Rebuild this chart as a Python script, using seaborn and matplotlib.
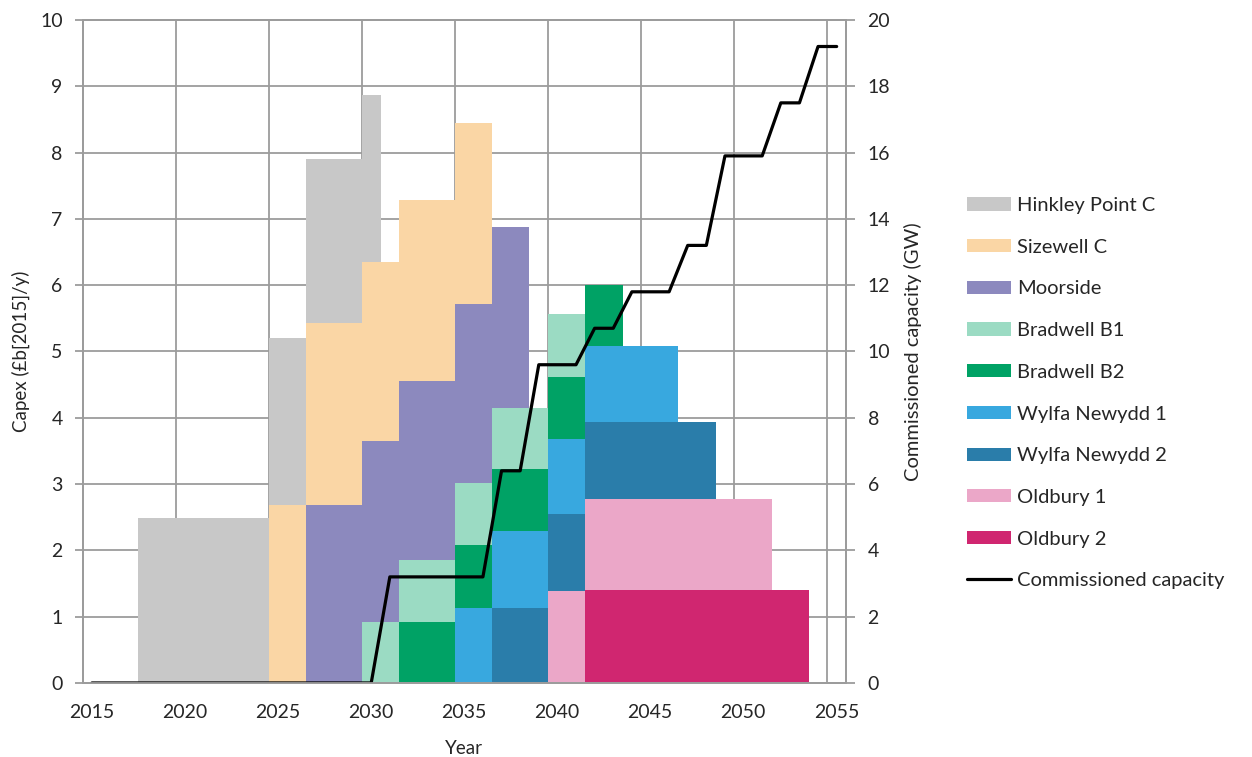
import pandas as pd
import matplotlib.pyplot as plt
import matplotlib.transforms as mtransforms
import seaborn as sns
import numpy as np
from matplotlib.patches import Patch
from matplotlib.lines import Line2D

sns.set_theme(style="whitegrid")
plt.rcParams['font.family'] = ['Lato', 'DejaVu Sans']

# projects, stacked so the first one ends up on top
projects = ["Hinkley Point C", "Sizewell C", "Moorside", "Bradwell B1", "Bradwell B2",
            "Wylfa Newydd 1", "Wylfa Newydd 2", "Oldbury 1", "Oldbury 2"]
colors = ["#c8c8c8", "#fad6a5", "#8c89be", "#9bdbc3", "#00a265",
          "#38a8df", "#2a7daa", "#eba7c8", "#d02670"]

# first construction year of each project, then yearly capex (£b[2015]/y)
start_years = [2018, 2025, 2027, 2030, 2032, 2035, 2037, 2040, 2042]
hinkley = [2.49, 2.49, 2.49, 2.49, 2.49, 2.49, 2.49, 2.52, 2.52, 2.48, 2.48, 2.48, 2.52]
sizewell = [2.69, 2.69, 2.74, 2.74, 2.74, 2.70, 2.70, 2.73, 2.73, 2.73, 2.73, 2.73]
moorside = [2.69, 2.69, 2.69, 2.73, 2.73, 2.70, 2.70, 2.70, 2.70, 2.70, 2.73, 2.73]
bradwell1 = [0.92, 0.92, 0.94, 0.94, 0.94, 0.94, 0.94, 0.92, 0.92, 0.92, 0.94, 0.94]
bradwell2 = [0.92, 0.92, 0.92, 0.95, 0.95, 0.93, 0.93, 0.93, 0.94, 0.94, 0.92, 0.92]
wylfa1 = [1.13, 1.13, 1.16, 1.16, 1.16, 1.13, 1.13, 1.15, 1.15, 1.15, 1.15, 1.15]
wylfa2 = [1.13, 1.13, 1.13, 1.16, 1.16, 1.16, 1.16, 1.16, 1.16, 1.16, 1.16, 1.16]
oldbury1 = [1.39, 1.39, 1.38, 1.38, 1.38, 1.38, 1.38, 1.38, 1.38, 1.38, 1.38, 1.38]
oldbury2 = [1.40, 1.40, 1.40, 1.40, 1.40, 1.40, 1.40, 1.40, 1.40, 1.40, 1.40, 1.40]
capex = [hinkley, sizewell, moorside, bradwell1, bradwell2, wylfa1, wylfa2, oldbury1, oldbury2]

# commissioned capacity (GW), one value per year 2015..2055
cap_years = np.arange(2015, 2056)
capacity = [0, 0, 0, 0, 0, 0, 0, 0, 0, 0, 0, 0, 0, 0, 0, 0,
            3.2, 3.2, 3.2, 3.2, 3.2, 3.2,
            6.4, 6.4,
            9.6, 9.6, 9.6,
            10.7, 10.7,
            11.8, 11.8, 11.8,
            13.2, 13.2,
            15.9, 15.9, 15.9,
            17.5, 17.5,
            19.2, 19.2]

rows = []
for name, start, vals in zip(projects, start_years, capex):
    for i, v in enumerate(vals):
        rows.append({"year": start + i, "project": name, "capex": v})
df = pd.DataFrame(rows)

fig, ax = plt.subplots(figsize=(12.52, 7.57), dpi=100)
fig.subplots_adjust(left=0.066, right=0.6757, bottom=0.0978, top=0.9736)

grid_c = "#9c9c9c"
text_c = "#262626"
sns.histplot(data=df, x="year", weights="capex", hue="project", hue_order=projects,
             palette=colors, multiple="stack", binwidth=1, binrange=(2015, 2056),
             element="step", alpha=1, linewidth=0, legend=False, ax=ax)

ax.set_xlim(2015, 2056)
ax.set_ylim(0, 10)
ax.set_xticks(range(2015, 2056, 5))
ax.set_yticks(range(0, 11))
ax.grid(True, color=grid_c, linewidth=1.3)
ax.set_axisbelow(True)
for s in ax.spines.values():
    s.set_color(grid_c)
    s.set_linewidth(1.3)
ax.tick_params(axis="both", length=6, width=1.3, color=grid_c,
               labelsize=14, labelcolor=text_c, direction="out")
ax.tick_params(axis="y", pad=8.4)
ax.tick_params(axis="x", pad=9.5)
ax.set_xlabel("Year", fontsize=13.5, color=text_c, labelpad=13)
ax.set_ylabel("Capex (£b[2015]/y)", fontsize=13.5, color=text_c, labelpad=7)

# x labels sit a little right of their ticks in the original
shift = mtransforms.ScaledTranslation(0.09, 0, fig.dpi_scale_trans)
for lbl in ax.get_xticklabels():
    lbl.set_transform(lbl.get_transform() + shift)

ax2 = ax.twinx()
sns.lineplot(x=cap_years + 0.5, y=capacity, color="black", linewidth=2.3, ax=ax2)
ax2.set_ylim(0, 20)
ax2.set_yticks(range(0, 21, 2))
ax2.grid(False)
for s in ax2.spines.values():
    s.set_color(grid_c)
    s.set_linewidth(1.3)
ax2.tick_params(axis="y", length=6.5, width=1.3, color=grid_c, labelsize=14,
                labelcolor=text_c, direction="out", pad=9)
ax2.set_ylabel("Commissioned capacity (GW)", fontsize=14.5, color=text_c, labelpad=10)

handles = [Patch(facecolor=c, edgecolor="none", label=p) for p, c in zip(projects, colors)]
handles.append(Line2D([], [], color="black", linewidth=2.3, label="Commissioned capacity"))
fig.legend(handles=handles, loc="upper left", bbox_to_anchor=(0.758, 0.7635),
           frameon=False, fontsize=14.5, handlelength=2.18, handleheight=0.63,
           handletextpad=0.28, labelspacing=1.225, labelcolor=text_c)

fig.savefig("out.png", dpi=100)
